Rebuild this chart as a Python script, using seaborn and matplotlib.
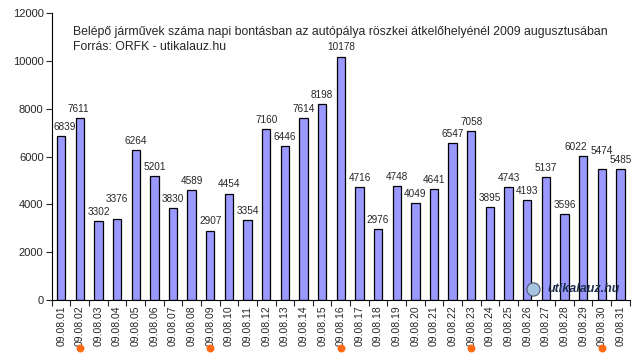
import numpy as np
import pandas as pd
import matplotlib
matplotlib.use("Agg")
import matplotlib.pyplot as plt
import matplotlib.transforms as mtransforms
import seaborn as sns

# daily counts of entering vehicles, August 2009
days = ["09.08.01", "09.08.02", "09.08.03", "09.08.04", "09.08.05", "09.08.06",
        "09.08.07", "09.08.08", "09.08.09", "09.08.10", "09.08.11", "09.08.12",
        "09.08.13", "09.08.14", "09.08.15", "09.08.16", "09.08.17", "09.08.18",
        "09.08.19", "09.08.20", "09.08.21", "09.08.22", "09.08.23", "09.08.24",
        "09.08.25", "09.08.26", "09.08.27", "09.08.28", "09.08.29", "09.08.30",
        "09.08.31"]
vehicles = [6839, 7611, 3302, 3376, 6264, 5201, 3830, 4589, 2907, 4454, 3354,
            7160, 6446, 7614, 8198, 10178, 4716, 2976, 4748, 4049, 4641, 6547,
            7058, 3895, 4743, 4193, 5137, 3596, 6022, 5474, 5485]
# sundays get an orange dot under the label
sundays = ["09.08.02", "09.08.09", "09.08.16", "09.08.23", "09.08.30"]
yticks = [0, 2000, 4000, 6000, 8000, 10000, 12000]

title1 = ("Belépő járművek száma napi bontásban az autópálya röszkei átkelőhelyénél "
          "2009 augusztusában")
title2 = "Forrás: ORFK - utikalauz.hu"

df = pd.DataFrame({"nap": days, "jarmu": vehicles})

sns.set_style("white")
plt.rcParams["font.family"] = ["Liberation Sans", "DejaVu Sans"]

fig = plt.figure(figsize=(6.4, 3.59), dpi=100)
ax = fig.add_axes([0.081, 0.164, 0.903, 0.800])

sns.barplot(data=df, x="nap", y="jarmu", color="#9999FF", saturation=1,
            edgecolor="black", linewidth=0.9, width=0.45, ax=ax)

# labels that would collide with a neighbour are moved a bit, like in excel
lift = {"09.08.04": 480, "09.08.30": 380}
shift = {"09.08.01": 0.2, "09.08.02": -0.1, "09.08.29": -0.4}
for i, v in enumerate(vehicles):
    d = days[i]
    ax.text(i + shift.get(d, 0), v + 170 + lift.get(d, 0), str(v),
            ha="center", va="bottom", fontsize=7.2,
            family=["Liberation Sans Narrow", "Liberation Sans", "DejaVu Sans"])

ax.set_ylim(0, 12000)
ax.set_xlim(-0.5, len(days) - 0.5)
ax.set_yticks(yticks)
ax.set_xlabel("")
ax.set_ylabel("")

ax.tick_params(axis="y", which="major", direction="out", length=4, width=0.8,
               labelsize=8, left=True, pad=2)
ax.tick_params(axis="x", which="major", length=0, labelsize=7.5, pad=4)
ax.set_xticks(np.arange(-0.5, len(days), 1), minor=True)
ax.tick_params(axis="x", which="minor", direction="out", length=4, width=0.8,
               bottom=True)
plt.setp(ax.get_xticklabels(), rotation=90)

sns.despine(ax=ax)
for s in ["left", "bottom"]:
    ax.spines[s].set_color("black")
    ax.spines[s].set_linewidth(0.8)

ax.text(0.036, 0.955, title1, transform=ax.transAxes, ha="left", va="top",
        fontsize=8.8)
ax.text(0.036, 0.902, title2, transform=ax.transAxes, ha="left", va="top",
        fontsize=8.8)

# sunday markers
trans = mtransforms.blended_transform_factory(ax.transData, ax.transAxes)
xs = [days.index(d) for d in sundays]
ax.scatter(xs, [-0.165] * len(xs), s=22, color="#FF6A13", transform=trans,
           clip_on=False, zorder=5)

# watermark
ax.scatter([0.833], [0.04], s=90, color="#A9C4E0", edgecolor="#4A5A70",
           linewidth=0.8, transform=ax.transAxes, zorder=4)
ax.text(0.92, 0.04, "utikalauz.hu", transform=ax.transAxes, ha="center",
        va="center", fontsize=9, fontstyle="italic", fontweight="bold",
        color="#1F2F4F", zorder=4)

fig.savefig("out.png", dpi=100)
